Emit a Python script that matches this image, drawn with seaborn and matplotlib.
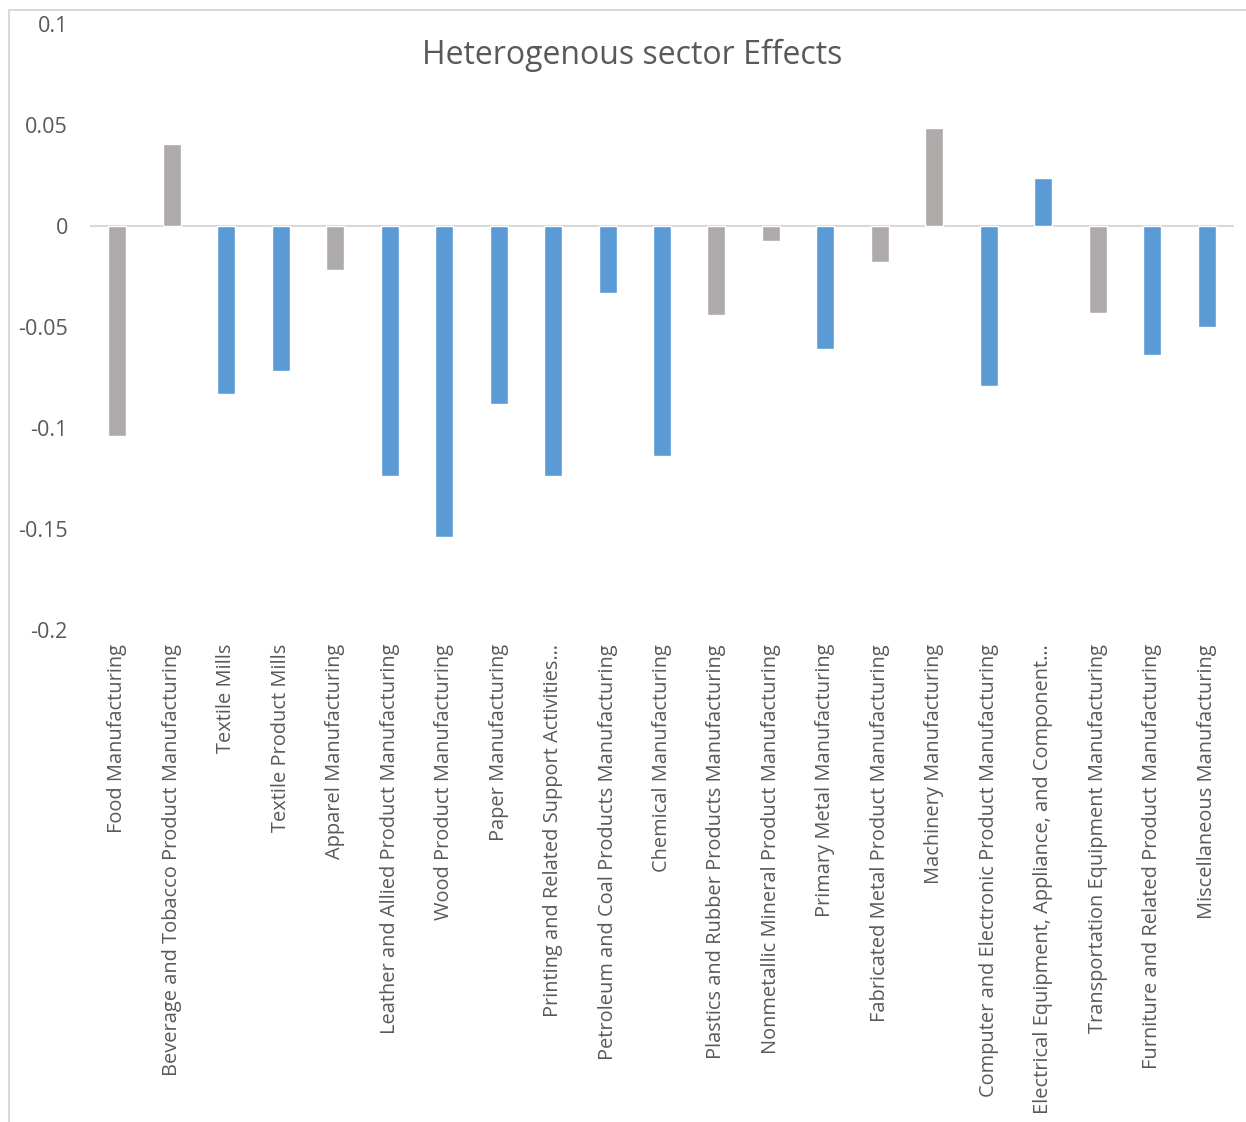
import matplotlib
matplotlib.use("Agg")
import matplotlib.pyplot as plt
from matplotlib.patches import Rectangle
import seaborn as sns
import pandas as pd

# sector effects
sectors = ['Food Manufacturing', 'Beverage and Tobacco Product Manufacturing', 'Textile Mills',
           'Textile Product Mills', 'Apparel Manufacturing', 'Leather and Allied Product Manufacturing',
           'Wood Product Manufacturing', 'Paper Manufacturing', 'Printing and Related Support Activities\u2026',
           'Petroleum and Coal Products Manufacturing', 'Chemical Manufacturing',
           'Plastics and Rubber Products Manufacturing', 'Nonmetallic Mineral Product Manufacturing',
           'Primary Metal Manufacturing', 'Fabricated Metal Product Manufacturing', 'Machinery Manufacturing',
           'Computer and Electronic Product Manufacturing',
           'Electrical Equipment, Appliance, and Component\u2026', 'Transportation Equipment Manufacturing',
           'Furniture and Related Product Manufacturing', 'Miscellaneous Manufacturing']
effects = [-0.104, 0.0405, -0.083, -0.072, -0.022, -0.124, -0.154, -0.088, -0.124, -0.033, -0.114,
           -0.044, -0.0075, -0.061, -0.018, 0.0485, -0.079, 0.024, -0.043, -0.064, -0.050]
group = ['g', 'g', 'b', 'b', 'g', 'b', 'b', 'b', 'b', 'b', 'b',
         'g', 'g', 'b', 'g', 'g', 'b', 'b', 'g', 'b', 'b']
colours = {'g': '#ADAAA9', 'b': '#5B9BD5'}

df = pd.DataFrame({'sector': sectors, 'effect': effects, 'group': group})

sns.set_style('white')
plt.rcParams['font.family'] = ['Open Sans', 'DejaVu Sans']

fig = plt.figure(figsize=(12.46, 11.22), dpi=100)
ax = fig.add_axes([90/1246, 1 - 630/1122, 1144/1246, 606/1122])

sns.barplot(data=df, x='sector', y='effect', hue='group', palette=colours, dodge=False,
            width=0.33, saturation=1, legend=False, ax=ax, order=sectors)

ax.set_ylim(-0.2, 0.1)
ax.set_yticks([-0.2, -0.15, -0.1, -0.05, 0, 0.05, 0.1])
ax.set_yticklabels(['-0.2', '-0.15', '-0.1', '-0.05', '0', '0.05', '0.1'])
ax.set_xlim(-0.5, len(sectors) - 0.5)
ax.axhline(0, color='#D9D9D9', lw=1.5, zorder=0)
for s in ax.spines.values():
    s.set_visible(False)
ax.set_xlabel('')
ax.set_ylabel('')
ax.tick_params(axis='y', length=0, pad=16, labelsize=15.5, labelcolor='#595959')
ax.tick_params(axis='x', length=0, pad=10, labelsize=14.4, labelcolor='#595959')
ax.set_xticks(range(len(sectors)))
ax.set_xticklabels(sectors, rotation=90, va='top', ha='center')

fig.text(632/1246, 1 - 55/1122, 'Heterogenous sector Effects', fontsize=23, color='#595959',
         ha='center', va='center')

# screenshot border
fig.add_artist(Rectangle((9/1246, -0.1), 2, 1.1 - 10/1122, transform=fig.transFigure,
                         fill=False, edgecolor='#D9D9D9', lw=1.5))

fig.savefig('out.png', dpi=100, facecolor='white')
